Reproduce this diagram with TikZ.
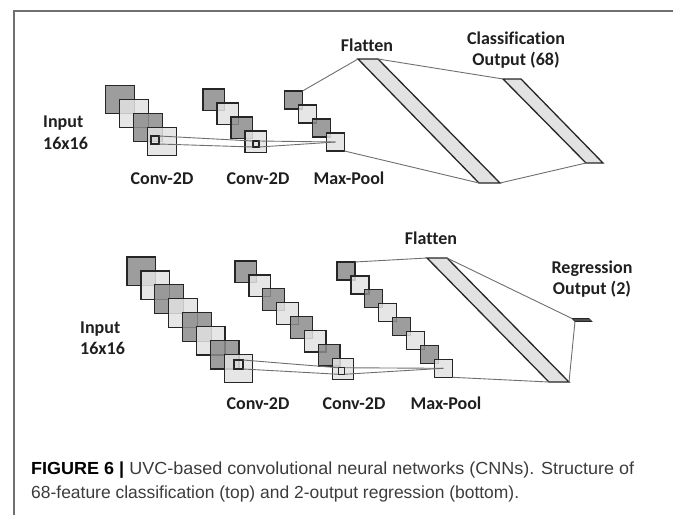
\documentclass[tikz,border=0pt]{standalone}
\usepackage{fontspec}
\setmainfont[Ligatures=NoCommon]{Carlito}
\newfontfamily\capfont{Liberation Sans}
\definecolor{darkfill}{HTML}{8C8C8C}
\definecolor{lightfill}{HTML}{E2E2E2}
\definecolor{sqline}{HTML}{262626}
\definecolor{conline}{HTML}{6E6E6E}
\definecolor{framegray}{HTML}{707070}
\definecolor{captext}{HTML}{3C3C3C}
\definecolor{regfill}{HTML}{505050}
\begin{document}
\begin{tikzpicture}[x=1pt,y=-1pt,
  sq/.style={draw=sqline,line width=1.2pt,inner sep=0pt,outer sep=0pt,fill opacity=0.85,draw opacity=1},
  kern/.style={draw=sqline,line width=1.1pt,inner sep=0pt,outer sep=0pt},
  con/.style={draw=conline,line width=0.9pt},
  bar/.style={draw=sqline,line width=1.3pt,fill=lightfill,line join=miter},
  lbl/.style={font=\fontsize{18}{20}\selectfont\bfseries,text=black!88,inner sep=0pt,anchor=base},
  lblw/.style={lbl,anchor=base west},
  captxt/.style={inner sep=0pt,anchor=base west,text=captext}]
\useasboundingbox (0,0) rectangle (673,515);
\draw[framegray,line width=1.2pt] (14,515) -- (14,11) -- (673,11);

% ---------------- top network ----------------
\foreach \k/\c in {1/darkfill,2/lightfill,3/darkfill,4/lightfill}
  \node[sq,fill=\c,minimum size=28.5pt] (ti\k) at ({120+14*(\k-1)},{99.5+14*(\k-1)}) {};
\node[kern,minimum size=8pt] (tis) at (155,140) {};
\foreach \k/\c in {1/darkfill,2/lightfill,3/darkfill,4/lightfill}
  \node[sq,fill=\c,minimum size=21.5pt] (tc\k) at ({213.75+14*(\k-1)},{99.75+14*(\k-1)}) {};
\node[kern,minimum size=6pt] (tcs) at (256,144) {};
\foreach \k/\c in {1/darkfill,2/lightfill,3/darkfill,4/lightfill}
  \node[sq,fill=\c,minimum size=18pt] (tm\k) at ({293.5+14*(\k-1)},{100+14*(\k-1)}) {};

\coordinate (tf1) at (358,59);
\coordinate (tf2) at (378,59);
\coordinate (tf3) at (500,183);
\coordinate (tf4) at (479,183);
\coordinate (tk1) at (503,79);
\coordinate (tk2) at (521,79);
\coordinate (tk3) at (603,163);
\coordinate (tk4) at (586,163);
\draw[bar] (tf1) -- (tf2) -- (tf3) -- (tf4) -- cycle;
\draw[bar] (tk1) -- (tk2) -- (tk3) -- (tk4) -- cycle;

\draw[con] (tis.north east) -- (tcs.north west);
\draw[con] (tis.south east) -- (tcs.south west);
\draw[con] (tcs.north east) -- (tm4.center);
\draw[con] (tcs.south east) -- (tm4.center);
\draw[con] (tm1.north east) -- (tf1);
\draw[con] (tm4.south east) -- (tf4);
\draw[con] (tf2) -- (tk1);
\draw[con] (tf3) -- (tk4);

\node[lblw] (tin1) at (43,127) {Input};
\node[lblw] (tin2) at (43,149) {16x16};
\node[lbl] (tl1) at (162,184) {Conv-2D};
\node[lbl] (tl2) at (258,184) {Conv-2D};
\node[lbl] (tl3) at (349,184) {Max-Pool};
\node[lbl] (tl4) at (367,51) {Flatten};
\node[lbl] (tl5) at (516,44) {Classification};
\node[lbl] (tl6) at (516,65) {Output (68)};

% ---------------- bottom network ----------------
\foreach \k/\c in {1/darkfill,2/lightfill,3/darkfill,4/lightfill,5/darkfill,6/lightfill,7/darkfill,8/lightfill}
  \node[sq,fill=\c,minimum size=28.5pt] (bi\k) at ({141.25+13.9*(\k-1)},{271.25+13.9*(\k-1)}) {};
\node[kern,minimum size=9pt] (bis) at (238.5,364.5) {};
\foreach \k/\c in {1/darkfill,2/lightfill,3/darkfill,4/lightfill,5/darkfill,6/lightfill,7/darkfill,8/lightfill}
  \node[sq,fill=\c,minimum size=21.5pt] (bc\k) at ({245.75+13.9*(\k-1)},{271.75+13.9*(\k-1)}) {};
\node[kern,minimum size=6.5pt] (bcs) at (341.5,371) {};
\foreach \k/\c in {1/darkfill,2/lightfill,3/darkfill,4/lightfill,5/darkfill,6/lightfill,7/darkfill,8/lightfill}
  \node[sq,fill=\c,minimum size=18pt] (bm\k) at ({346+13.9*(\k-1)},{271+13.9*(\k-1)}) {};

\coordinate (bf1) at (427,258);
\coordinate (bf2) at (447,258);
\coordinate (bf3) at (569,382);
\coordinate (bf4) at (549,382);
\draw[bar] (bf1) -- (bf2) -- (bf3) -- (bf4) -- cycle;
\coordinate (br1) at (572,318.5);
\coordinate (br2) at (589,318.5);
\coordinate (br3) at (592,321.5);
\coordinate (br4) at (575,321.5);
\draw[draw=sqline,line width=0.6pt,fill=regfill] (br1) -- (br2) -- (br3) -- (br4) -- cycle;

\draw[con] (bis.north east) -- (bcs.north west);
\draw[con] (bis.south east) -- (bcs.south west);
\draw[con] (bcs.north east) -- (bm8.center);
\draw[con] (bcs.south east) -- (bm8.center);
\draw[con] (bm1.north east) -- (bf1);
\draw[con] (bm8.south east) -- (bf4);
\draw[con] (bf2) -- (br1);
\draw[con] (bf3) -- (br4);

\node[lblw] (bin1) at (80,333) {Input};
\node[lblw] (bin2) at (80,354) {16x16};
\node[lbl] (bl1) at (258,409) {Conv-2D};
\node[lbl] (bl2) at (354,409) {Conv-2D};
\node[lbl] (bl3) at (446,409) {Max-Pool};
\node[lbl] (bl4) at (431,244) {Flatten};
\node[lbl] (bl5) at (592,273) {Regression};
\node[lbl] (bl6) at (592,294) {Output (2)};

% ---------------- caption ----------------
\node[captxt] (cap1) at (31,474) {\resizebox{603pt}{\height}{\capfont\fontsize{17.5}{20}\selectfont\textbf{\color{black}FIGURE 6 |} UVC-based convolutional neural networks (CNNs). Structure of}};
\node[captxt] (cap2) at (31,498) {\resizebox{488pt}{\height}{\capfont\fontsize{17.5}{20}\selectfont 68-feature classification (top) and 2-output regression (bottom).}};
\end{tikzpicture}
\end{document}
